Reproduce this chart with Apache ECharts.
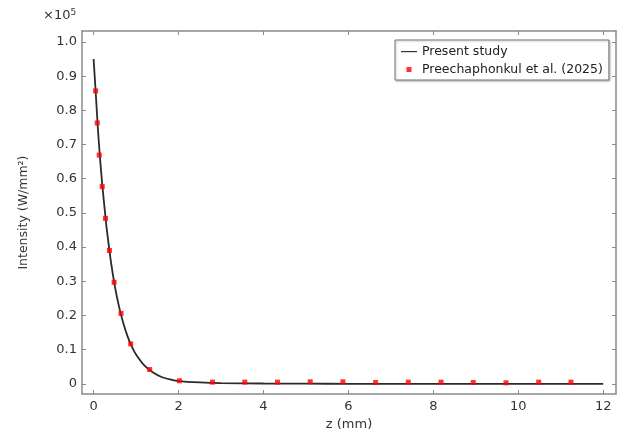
<!DOCTYPE html>
<html>
<head>
<meta charset="utf-8">
<script src="https://cdn.jsdelivr.net/npm/echarts@6/dist/echarts.min.js"></script>
<style>
html,body{margin:0;padding:0;background:#fff;}
#chart{width:617px;height:436px;}
</style>
</head>
<body>
<div id="chart"></div>
<script>
// Values in units of 10^5 W/mm^2
var curveZ = [0, 0.05, 0.1, 0.15, 0.2, 0.3, 0.4, 0.5, 0.6, 0.7, 0.8, 0.9, 1.0, 1.2, 1.4, 1.6, 1.8, 2.0, 2.5, 3.0, 4.0, 5.0, 6.0, 8.0, 10.0, 12.0];
var curveI = [0.95, 0.852, 0.748, 0.662, 0.588, 0.463, 0.364, 0.286, 0.225, 0.177, 0.139, 0.109, 0.086, 0.053, 0.033, 0.020, 0.013, 0.008, 0.004, 0.002, 0.001, 0.0005, 0, 0, 0, 0];
var refZ = [0.047, 0.086, 0.133, 0.203, 0.28, 0.373, 0.483, 0.646, 0.873, 1.32, 2.02, 2.80, 3.56, 4.33, 5.10, 5.87, 6.64, 7.41, 8.18, 8.94, 9.71, 10.48, 11.24];
var refI = [0.857, 0.763, 0.669, 0.577, 0.484, 0.390, 0.297, 0.206, 0.117, 0.042, 0.009, 0.005, 0.005, 0.005, 0.006, 0.006, 0.004, 0.005, 0.005, 0.004, 0.003, 0.005, 0.005];
var xTicks = [0, 2, 4, 6, 8, 10, 12];
var yTicks = [0, 0.1, 0.2, 0.3, 0.4, 0.5, 0.6, 0.7, 0.8, 0.9, 1.0];
var seriesNames = ['Present study', 'Preechaphonkul et al. (2025)'];

var font = 'DejaVu Sans';
var axisGrey = '#8a8a8a';
var chart = echarts.init(document.getElementById('chart'), null, {renderer: 'canvas'});

function zip(a, b) { return a.map(function (v, i) { return [v, b[i]]; }); }

var xBase = {
  type: 'value', min: -0.273, max: 12.3,
  axisLine: {show: true, onZero: false, lineStyle: {color: axisGrey, width: 1.5}},
  axisTick: {show: true, inside: true, length: 4, customValues: xTicks, lineStyle: {color: axisGrey}},
  splitLine: {show: false}
};
var yBase = {
  type: 'value', min: -0.030, max: 1.032,
  axisLine: {show: true, onZero: false, lineStyle: {color: axisGrey, width: 1.5}},
  axisTick: {show: true, inside: true, length: 4, customValues: yTicks, lineStyle: {color: axisGrey}},
  splitLine: {show: false}
};

chart.setOption({
  animation: false,
  backgroundColor: '#fff',
  grid: {left: 82, right: 1, top: 31, bottom: 35.5, containLabel: false},
  xAxis: [
    Object.assign({}, xBase, {
      position: 'bottom',
      name: 'z (mm)', nameLocation: 'middle', nameGap: 23,
      nameTextStyle: {fontFamily: font, fontSize: 13, color: '#333'},
      axisLabel: {show: true, customValues: xTicks, margin: 6, fontFamily: font, fontSize: 13, color: '#333',
        formatter: function (v) { return String(v); }}
    }),
    Object.assign({}, xBase, {position: 'top', axisLabel: {show: false}})
  ],
  yAxis: [
    Object.assign({}, yBase, {
      position: 'left',
      name: 'Intensity (W/mm²)', nameLocation: 'middle', nameGap: 52, nameRotate: 90,
      nameTextStyle: {fontFamily: font, fontSize: 12.5, color: '#333'},
      axisLabel: {show: true, customValues: yTicks, margin: 5, fontFamily: font, fontSize: 13, color: '#333',
        formatter: function (v) { return v === 0 ? '0' : v.toFixed(1); }}
    }),
    Object.assign({}, yBase, {position: 'right', axisLabel: {show: false}})
  ],
  legend: {
    orient: 'vertical', left: 395, top: 40,
    padding: [5, 6, 4, 6], itemGap: 5, itemWidth: 16, itemHeight: 12,
    backgroundColor: '#fff', borderColor: '#777', borderWidth: 1,
    shadowColor: 'rgba(0,0,0,0.25)', shadowBlur: 2, shadowOffsetX: 1, shadowOffsetY: 1,
    textStyle: {fontFamily: font, fontSize: 12.5, color: '#222', padding: [0, 0, 0, 0]},
    data: [
      {name: seriesNames[0], icon: 'path://M0,0M16,12M0,5.5h16v1.2h-16z', itemStyle: {color: '#333'}},
      {name: seriesNames[1], icon: 'path://M0,0M16,12M5.5,3.5h5v5h-5z', itemStyle: {color: '#ff0000'}}
    ]
  },
  graphic: [{
    type: 'text', left: 43, top: 8,
    style: {
      text: '×10{s|5}',
      rich: {s: {fontSize: 9, verticalAlign: 'top', padding: [0, 0, 6, 0], fontFamily: font, fill: '#333'}},
      fontFamily: font, fontSize: 13, fill: '#333'
    }
  }],
  series: [
    {
      name: seriesNames[0], type: 'line', data: zip(curveZ, curveI),
      showSymbol: false, symbol: 'none', smooth: 0.2,
      lineStyle: {color: '#2b2b2b', width: 1.8}, itemStyle: {color: '#2b2b2b'},
      z: 2
    },
    {
      name: seriesNames[1], type: 'scatter', data: zip(refZ, refI),
      symbol: 'rect', symbolSize: 5,
      itemStyle: {color: '#ff0000'},
      z: 3
    }
  ]
});
</script>
</body>
</html>
